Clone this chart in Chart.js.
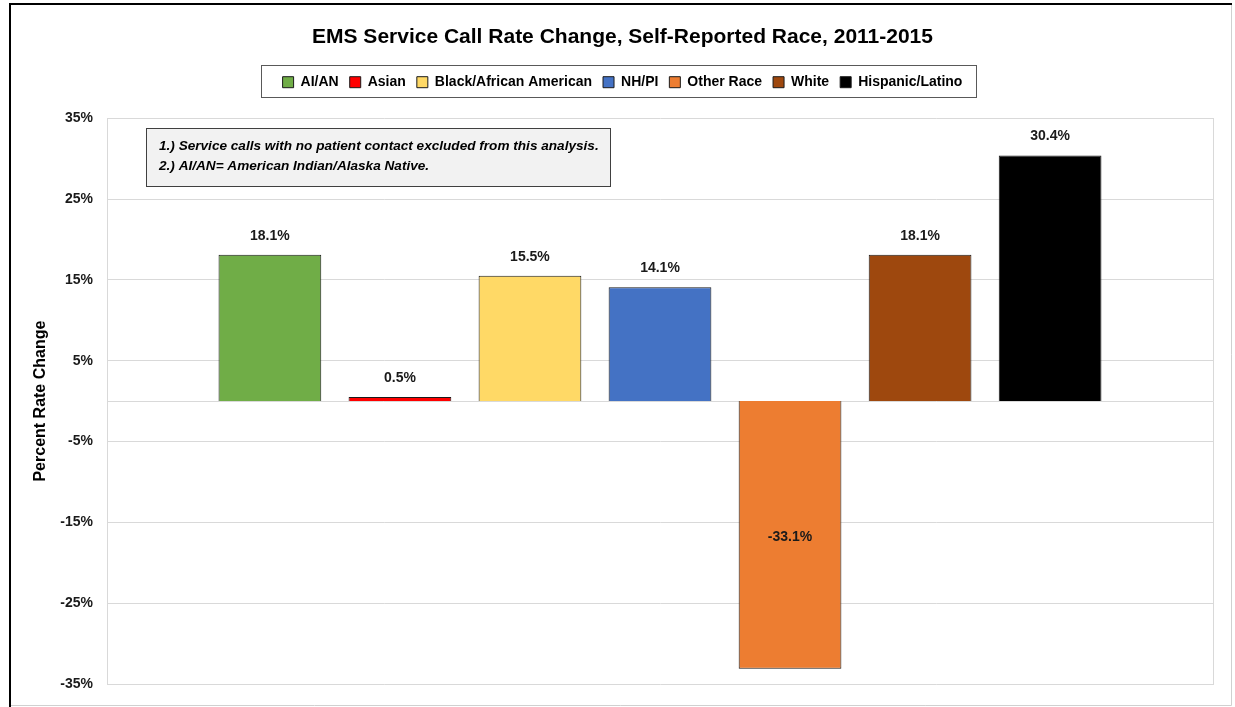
<!DOCTYPE html>
<html>
<head>
<meta charset="utf-8">
<title>EMS Service Call Rate Change</title>
<script src="https://cdn.jsdelivr.net/npm/chart.js@4/dist/chart.umd.min.js"></script>
<style>
  html, body { margin: 0; padding: 0; background: #fff; }
</style>
</head>
<body>
<canvas id="myChart" width="1235" height="707"></canvas>
<script>
var races = ['AI/AN', 'Asian', 'Black/African American', 'NH/PI', 'Other Race', 'White', 'Hispanic/Latino'];
var rateChange = [18.1, 0.5, 15.5, 14.1, -33.1, 18.1, 30.4];
var barColors = ['#70AD47', '#FF0000', '#FFD966', '#4472C4', '#ED7D31', '#9E480E', '#000000'];
var yTicks = [-35, -25, -15, -5, 5, 15, 25, 35];
var notes = [
    '1.) Service calls with no patient contact excluded from this analysis.',
    '2.) AI/AN= American Indian/Alaska Native.'
];

var FONT = "'Liberation Sans', Arial, sans-serif";
var NARROW = "'Liberation Sans Narrow', 'Arial Narrow', 'Liberation Sans', sans-serif";

var datasets = [];
for (var i = 0; i < races.length; i++) {
    datasets.push({
        label: races[i],
        data: [rateChange[i]],
        backgroundColor: barColors[i],
        borderColor: '#1a1a1a',
        borderWidth: 1,
        categoryPercentage: 0.823,
        barPercentage: 0.79
    });
}

// outer frame of the picture
var framePlugin = {
    id: 'frame',
    beforeDraw: function (chart) {
        var ctx = chart.ctx;
        ctx.save();
        ctx.fillStyle = '#fff';
        ctx.fillRect(0, 0, chart.width, chart.height);
        ctx.restore();
    },
    afterDraw: function (chart) {
        var ctx = chart.ctx;
        ctx.save();
        ctx.strokeStyle = '#d0d0d0';
        ctx.lineWidth = 1;
        ctx.beginPath();
        ctx.moveTo(1231.5, 3);
        ctx.lineTo(1231.5, 705.5);
        ctx.lineTo(9, 705.5);
        ctx.stroke();
        ctx.strokeStyle = '#000';
        ctx.lineWidth = 2;
        ctx.beginPath();
        ctx.moveTo(10, 707);
        ctx.lineTo(10, 4);
        ctx.lineTo(1232, 4);
        ctx.stroke();
        ctx.restore();
    }
};

var zeroLinePlugin = {
    id: 'zeroLine',
    beforeDatasetsDraw: function (chart) {
        var y = Math.round(chart.scales.y.getPixelForValue(0)) + 0.5;
        var ctx = chart.ctx;
        ctx.save();
        ctx.strokeStyle = '#d9d9d9';
        ctx.lineWidth = 1;
        ctx.beginPath();
        ctx.moveTo(chart.chartArea.left, y);
        ctx.lineTo(chart.chartArea.right, y);
        ctx.stroke();
        ctx.restore();
    }
};

var legendBoxPlugin = {
    id: 'legendBox',
    afterDraw: function (chart) {
        var boxes = chart.legend.legendHitBoxes;
        if (!boxes || !boxes.length) return;
        var l = boxes[0].left, r = boxes[boxes.length - 1].left + boxes[boxes.length - 1].width;
        var t = boxes[0].top, h = boxes[0].height;
        var ctx = chart.ctx;
        ctx.save();
        ctx.strokeStyle = '#595959';
        ctx.lineWidth = 1;
        ctx.strokeRect(Math.round(l - 22) + 0.5, Math.round(t - 10) + 0.5, Math.round(r - l + 35), Math.round(h + 18));
        ctx.restore();
    }
};

var barLabelPlugin = {
    id: 'barLabels',
    afterDatasetsDraw: function (chart) {
        var ctx = chart.ctx;
        ctx.save();
        ctx.font = 'bold 14px ' + FONT;
        ctx.fillStyle = '#1a1a1a';
        ctx.textAlign = 'center';
        ctx.textBaseline = 'middle';
        chart.data.datasets.forEach(function (ds, i) {
            var bar = chart.getDatasetMeta(i).data[0];
            var v = ds.data[0];
            var y = v >= 0 ? bar.y - 19 : (bar.y + bar.base) / 2 + 2;
            ctx.fillText(v.toFixed(1) + '%', bar.x, y);
        });
        ctx.restore();
    }
};

var notesPlugin = {
    id: 'notes',
    afterDraw: function (chart) {
        var ctx = chart.ctx;
        ctx.save();
        ctx.fillStyle = '#f2f2f2';
        ctx.fillRect(146, 128, 464, 58);
        ctx.strokeStyle = '#404040';
        ctx.lineWidth = 1;
        ctx.strokeRect(146.5, 128.5, 464, 58);
        ctx.fillStyle = '#000';
        ctx.font = 'italic bold 13.6px ' + FONT;
        ctx.textBaseline = 'middle';
        ctx.fillText(notes[0], 159, 146);
        ctx.fillText(notes[1], 159, 166);
        ctx.restore();
    }
};

var ctx = document.getElementById('myChart').getContext('2d');
var myChart = new Chart(ctx, {
    type: 'bar',
    data: {
        labels: [''],
        datasets: datasets
    },
    options: {
        responsive: false,
        animation: false,
        devicePixelRatio: 1,
        layout: { padding: { left: 10, right: 0, top: 10, bottom: 23 } },
        scales: {
            x: { display: false },
            y: {
                min: -35,
                max: 35,
                afterBuildTicks: function (scale) {
                    scale.ticks = yTicks.map(function (v) { return { value: v }; });
                },
                afterFit: function (scale) { scale.width = 97; },
                grid: { color: '#d9d9d9', drawTicks: false },
                border: { display: true, color: '#d9d9d9' },
                ticks: {
                    padding: 14,
                    color: '#1a1a1a',
                    font: { family: FONT, size: 14, weight: 'bold' },
                    callback: function (v) { return v + '%'; }
                },
                title: {
                    display: true,
                    text: 'Percent Rate Change',
                    color: '#000',
                    font: { family: FONT, size: 16, weight: 'bold' },
                    padding: { top: 21, bottom: 0 }
                }
            },
            y2: {
                position: 'right',
                display: true,
                min: -35,
                max: 35,
                afterFit: function (scale) { scale.width = 22; },
                grid: { display: false, drawTicks: false },
                border: { display: true, color: '#d9d9d9' },
                ticks: { display: false }
            }
        },
        plugins: {
            title: {
                display: true,
                text: 'EMS Service Call Rate Change, Self-Reported Race, 2011-2015',
                color: '#000',
                font: { family: FONT, size: 21, weight: 'bold' },
                padding: { top: 15, bottom: 14 }
            },
            subtitle: {
                display: true,
                text: '',
                weight: 500,
                font: { size: 10, lineHeight: 1 },
                padding: { top: 0, bottom: 9 }
            },
            legend: {
                display: true,
                labels: {
                    boxWidth: 11,
                    boxHeight: 11,
                    padding: 11,
                    color: '#000',
                    font: { family: NARROW, size: 14, weight: 'bold' }
                }
            },
            tooltip: { enabled: false }
        }
    },
    plugins: [framePlugin, zeroLinePlugin, legendBoxPlugin, barLabelPlugin, notesPlugin]
});
</script>
</body>
</html>
